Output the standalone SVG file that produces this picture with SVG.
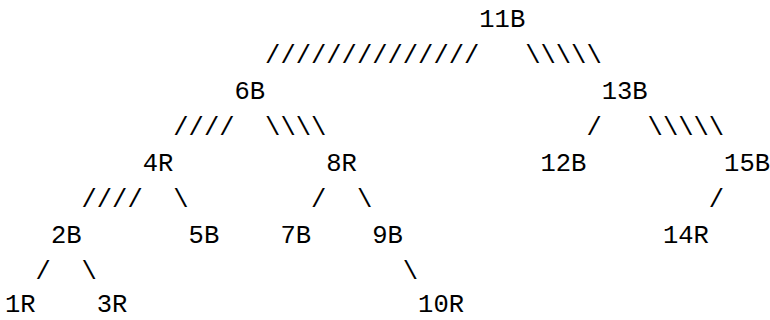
<svg xmlns="http://www.w3.org/2000/svg" width="770" height="320" viewBox="0 0 770 320">
<style>
text { font-family: "Liberation Mono", "DejaVu Sans Mono", monospace; font-size: 25.5px; fill: #000; white-space: pre; }
</style>
<rect width="770" height="320" fill="#fff"/>
<g id="connectors">
<text x="265.1" y="63">//////////////</text>
<text x="525.2" y="63">\\\\\</text>
<text x="173.3" y="135">////</text>
<text x="265.1" y="135">\\\\</text>
<text x="586.4" y="135">/</text>
<text x="647.6" y="135">\\\\\</text>
<text x="81.5" y="207">////</text>
<text x="173.3" y="207">\</text>
<text x="311" y="207">/</text>
<text x="356.9" y="207">\</text>
<text x="708.8" y="207">/</text>
<text x="35.6" y="279">/</text>
<text x="81.5" y="279">\</text>
<text x="402.8" y="279">\</text>
</g>
<g id="n11"><text x="479.3" y="27">11B</text></g>
<g id="n6"><text x="234.5" y="99">6B</text></g>
<g id="n13"><text x="601.7" y="99">13B</text></g>
<g id="n4"><text x="142.7" y="171">4R</text></g>
<g id="n8"><text x="326.3" y="171">8R</text></g>
<g id="n12"><text x="540.5" y="171">12B</text></g>
<g id="n15"><text x="724.1" y="171">15B</text></g>
<g id="n2"><text x="50.9" y="243">2B</text></g>
<g id="n5"><text x="188.6" y="243">5B</text></g>
<g id="n7"><text x="280.4" y="243">7B</text></g>
<g id="n9"><text x="372.2" y="243">9B</text></g>
<g id="n14"><text x="662.9" y="243">14R</text></g>
<g id="n1"><text x="5" y="312">1R</text></g>
<g id="n3"><text x="96.8" y="312">3R</text></g>
<g id="n10"><text x="418.1" y="312">10R</text></g>
</svg>
